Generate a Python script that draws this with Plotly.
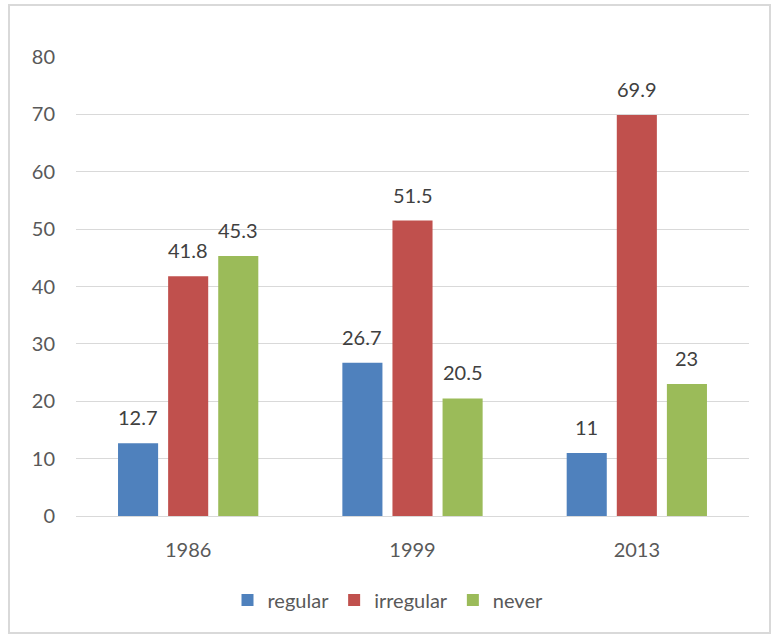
import plotly.graph_objects as go

years = ["1986", "1999", "2013"]
regular = [12.7, 26.7, 11]
irregular = [41.8, 51.5, 69.9]
never = [45.3, 20.5, 23]

series = [
    ("regular", regular, "#4F81BD"),
    ("irregular", irregular, "#C0504D"),
    ("never", never, "#9BBB59"),
]

FONT = "Lato, Open Sans, sans-serif"
BARGAP = 0.33

# page geometry (px)
L, R, T, B = 76, 26, 57, 121
W, H = 775 - L - R, 637 - T - B
def px_x(p):
    return (p - L) / W
def px_y(p):
    return (637 - B - p) / H

fig = go.Figure()
for name, vals, color in series:
    fig.add_trace(go.Bar(
        x=years, y=vals, name=name,
        marker=dict(color=color, line=dict(width=0)),
    ))

# value labels above bars (category axis -> x given as category index)
slot = (W / len(years)) * (1 - BARGAP) / len(series)
for i, (name, vals, color) in enumerate(series):
    for j, v in enumerate(vals):
        fig.add_annotation(
            x=j, y=v, xref="x", yref="y",
            text=f"{v:g}", showarrow=False,
            xshift=(i - 1) * slot, yshift=26, yanchor="middle",
            font=dict(size=20, color="#404040", family=FONT),
        )

# light border around the chart
fig.add_shape(type="rect", xref="paper", yref="paper",
              x0=px_x(9), x1=px_x(770), y0=px_y(633), y1=px_y(5),
              line=dict(color="#D9D9D9", width=2), layer="below")

fig.update_layout(
    width=775, height=637,
    margin=dict(l=L, r=R, t=T, b=B),
    paper_bgcolor="white", plot_bgcolor="white",
    barmode="group", bargap=BARGAP, bargroupgap=0.2,
    font=dict(family=FONT, size=20, color="#595959"),
    showlegend=True,
    legend=dict(orientation="h", x=px_x(388), xanchor="center",
                y=px_y(600), yanchor="middle",
                font=dict(size=20, color="#595959"),
                itemwidth=30, traceorder="normal"),
    xaxis=dict(type="category", range=[-0.5, 2.5], showline=True,
               linecolor="#D9D9D9", linewidth=1,
               ticks="", ticklabelstandoff=16,
               tickfont=dict(size=20, color="#595959")),
    yaxis=dict(range=[0, 80], dtick=10, showgrid=True, gridcolor="#D9D9D9",
               gridwidth=1, zeroline=False, ticks="", ticklabelstandoff=20,
               tickfont=dict(size=20, color="#595959")),
)

fig.write_html("out.html", config={"displayModeBar": False},
               post_script="document.body.style.margin='0';")
